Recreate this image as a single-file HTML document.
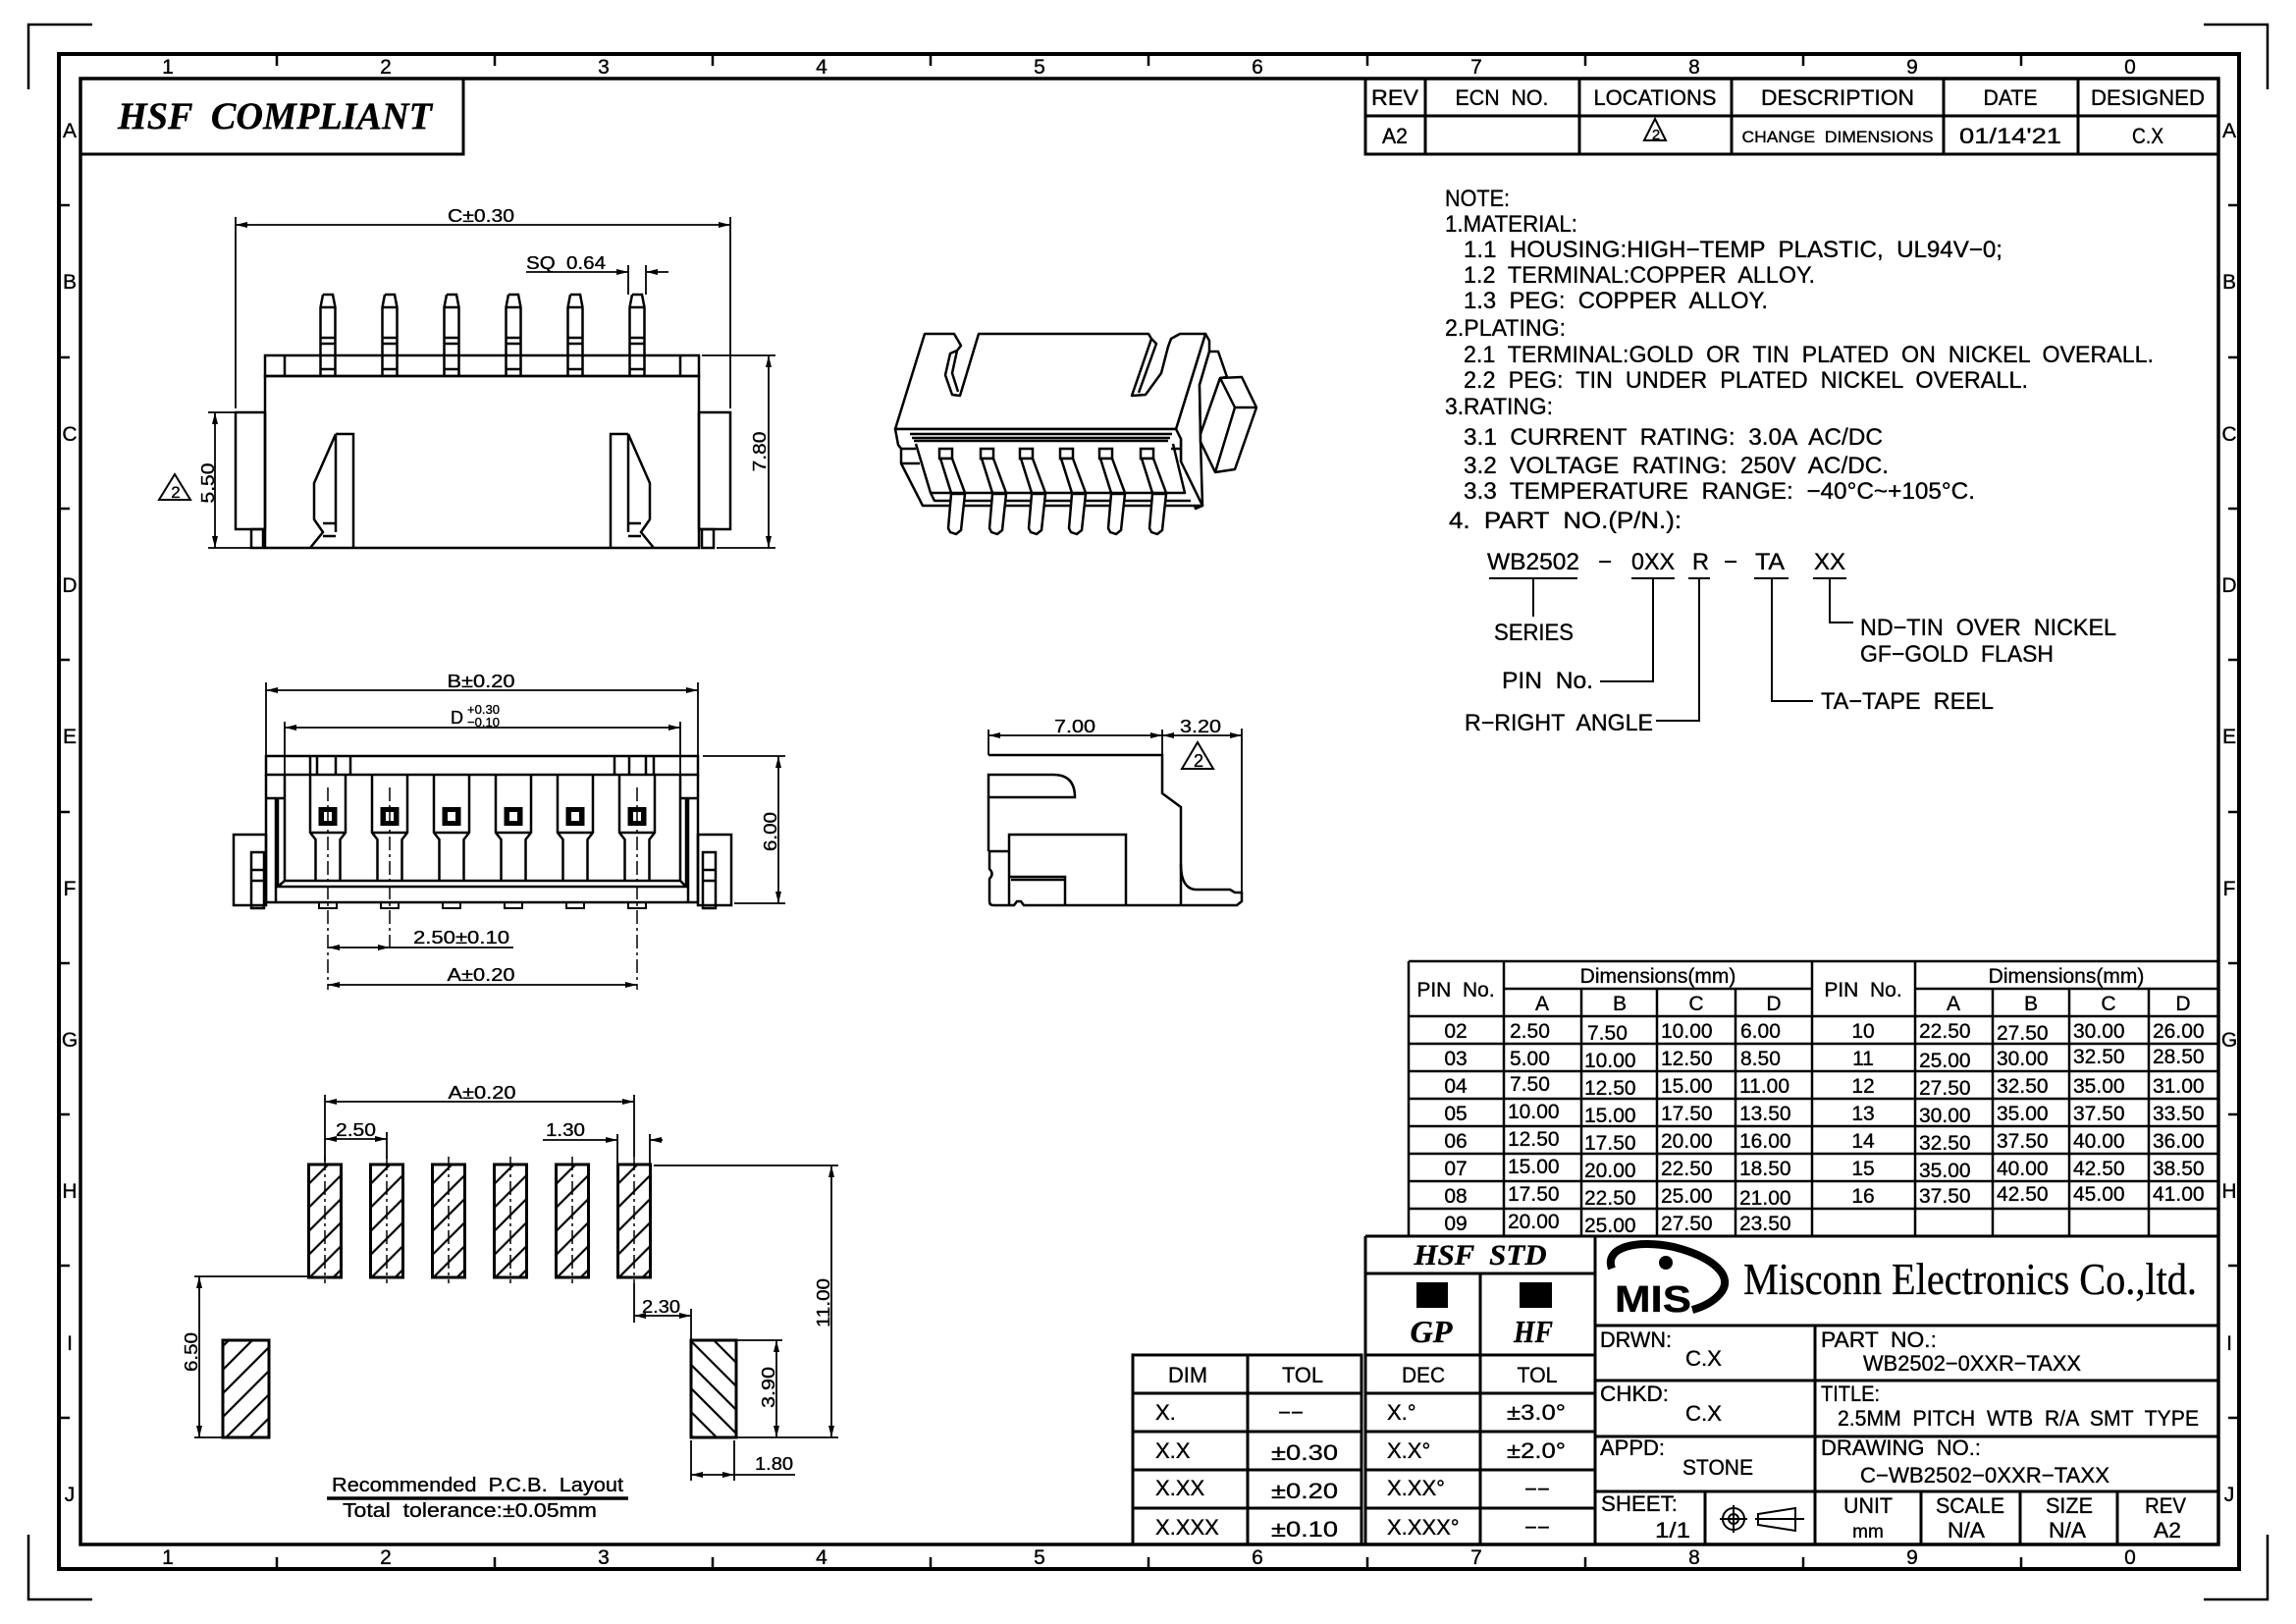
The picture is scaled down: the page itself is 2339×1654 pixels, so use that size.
<!DOCTYPE html>
<html><head><meta charset="utf-8"><style>
html,body{margin:0;padding:0;background:#fff;}
svg{display:block;}
text{font-family:"Liberation Sans",sans-serif;fill:#000;white-space:pre;stroke:#000;stroke-width:0.35;}
.sr{font-family:"Liberation Serif",serif;}
</style></head><body>
<svg width="2339" height="1654" viewBox="0 0 2339 1654" xmlns="http://www.w3.org/2000/svg" xml:space="preserve">
<defs>
<marker id="ar" viewBox="0 0 12 6" refX="12" refY="3" markerWidth="12" markerHeight="6" orient="auto-start-reverse" markerUnits="userSpaceOnUse"><path d="M0,0L12,3L0,6z" fill="#000"/></marker>
<pattern id="hA" patternUnits="userSpaceOnUse" width="17" height="17" patternTransform="rotate(45)"><rect width="17" height="17" fill="#fff"/><line x1="8" y1="0" x2="8" y2="17" stroke="#000" stroke-width="2.2"/></pattern>
<pattern id="hB" patternUnits="userSpaceOnUse" width="17" height="17" patternTransform="rotate(-45)"><rect width="17" height="17" fill="#fff"/><line x1="8" y1="0" x2="8" y2="17" stroke="#000" stroke-width="2.2"/></pattern>
<g id="fp"><path d="M-5,300H5L7.5,313V383M-5,300L-7.5,313V383M-7.5,313H7.5M-7.5,344H7.5M-7.5,350H7.5M-7.5,376H7.5" fill="none" stroke="#000" stroke-width="2.5"/></g>
<g id="bp"><path d="M-18,789V848L-12.5,855V897M18,789V848L12.5,855V897M-18,848H18" fill="none" stroke="#000" stroke-width="2.5"/><rect x="-9.5" y="822" width="19" height="19" fill="#000"/><rect x="-4" y="827" width="8" height="9" fill="#fff"/><rect x="-9" y="919" width="18" height="6" fill="none" stroke="#000" stroke-width="2"/></g>
<g id="pad"><rect x="-16.5" y="1186" width="33" height="115" fill="url(#hA)" stroke="#000" stroke-width="3"/><path d="M0,1178V1307" stroke="#000" stroke-width="1.5" stroke-dasharray="14,4,3,4"/></g>
<g id="tp"><rect x="-18" y="457" width="13" height="10" fill="#fff" stroke="#000" stroke-width="2.5"/><polygon points="-17,467 -5,467 8,502 -6,502" fill="#fff" stroke="#000" stroke-width="2.5"/><polygon points="-6,503 8,503 4,540 -1,544 -7,542 -9,538" fill="#fff" stroke="#000" stroke-width="2.5"/></g>
</defs>

<!-- FRAME -->
<g fill="none" stroke="#000">
<rect x="60" y="55" width="2221" height="1543" stroke-width="4"/>
<rect x="82" y="80" width="2178" height="1493" stroke-width="3.5"/>
<path stroke-width="2.5" d="M94,25H29V91M2245,25H2310V91M29,1563V1629H94M2310,1563V1629H2245"/>
<path stroke-width="2.5" d="M282,55V67M504,55V67M726,55V67M948,55V67M1170,55V67M1393,55V67M1615,55V67M1837,55V67M2059,55V67
M282,1586V1598M504,1586V1598M726,1586V1598M948,1586V1598M1170,1586V1598M1393,1586V1598M1615,1586V1598M1837,1586V1598M2059,1586V1598
M60,209H71M60,364H71M60,518H71M60,672H71M60,827H71M60,981H71M60,1135H71M60,1289H71M60,1444H71
M2270,209H2281M2270,364H2281M2270,518H2281M2270,672H2281M2270,827H2281M2270,981H2281M2270,1135H2281M2270,1289H2281M2270,1444H2281"/>
</g>
<g font-size="21" text-anchor="middle">
<text x="171" y="75">1</text><text x="393" y="75">2</text><text x="615" y="75">3</text><text x="837" y="75">4</text><text x="1059" y="75">5</text><text x="1281" y="75">6</text><text x="1504" y="75">7</text><text x="1726" y="75">8</text><text x="1948" y="75">9</text><text x="2170" y="75">0</text>
<text x="171" y="1593">1</text><text x="393" y="1593">2</text><text x="615" y="1593">3</text><text x="837" y="1593">4</text><text x="1059" y="1593">5</text><text x="1281" y="1593">6</text><text x="1504" y="1593">7</text><text x="1726" y="1593">8</text><text x="1948" y="1593">9</text><text x="2170" y="1593">0</text>
<text x="71" y="140">A</text><text x="71" y="294">B</text><text x="71" y="449">C</text><text x="71" y="603">D</text><text x="71" y="757">E</text><text x="71" y="912">F</text><text x="71" y="1066">G</text><text x="71" y="1220">H</text><text x="71" y="1375">I</text><text x="71" y="1529">J</text>
<text x="2271" y="140">A</text><text x="2271" y="294">B</text><text x="2271" y="449">C</text><text x="2271" y="603">D</text><text x="2271" y="757">E</text><text x="2271" y="912">F</text><text x="2271" y="1066">G</text><text x="2271" y="1220">H</text><text x="2271" y="1375">I</text><text x="2271" y="1529">J</text>
</g>

<!-- HSF COMPLIANT -->
<path d="M472,80V157H82" fill="none" stroke="#000" stroke-width="3"/>
<text class="sr" x="120" y="131" font-size="39" font-weight="bold" font-style="italic" textLength="320" lengthAdjust="spacingAndGlyphs">HSF  COMPLIANT</text>

<!-- REVISION TABLE -->
<path d="M1391,80V157H2260M1391,118H2260M1452,80V157M1609,80V157M1764,80V157M1980,80V157M2117,80V157" fill="none" stroke="#000" stroke-width="3"/>
<g font-size="22" text-anchor="middle">
<text x="1421" y="107" textLength="48" lengthAdjust="spacingAndGlyphs">REV</text>
<text x="1530" y="107" textLength="95" lengthAdjust="spacingAndGlyphs">ECN  NO.</text>
<text x="1686" y="107" textLength="125" lengthAdjust="spacingAndGlyphs">LOCATIONS</text>
<text x="1872" y="107" textLength="156" lengthAdjust="spacingAndGlyphs">DESCRIPTION</text>
<text x="2048" y="107" textLength="55" lengthAdjust="spacingAndGlyphs">DATE</text>
<text x="2188" y="107" textLength="116" lengthAdjust="spacingAndGlyphs">DESIGNED</text>
<text x="1421" y="146" textLength="26" lengthAdjust="spacingAndGlyphs">A2</text>
<text x="1872" y="145" font-size="17" textLength="195" lengthAdjust="spacingAndGlyphs">CHANGE  DIMENSIONS</text>
<text x="2048" y="146" textLength="104" lengthAdjust="spacingAndGlyphs">01/14'21</text>
<text x="2188" y="146" textLength="32" lengthAdjust="spacingAndGlyphs">C.X</text>
<text x="1687" y="142" font-size="15">2</text>
</g>
<path d="M1686,121L1697,143H1675Z" fill="none" stroke="#000" stroke-width="2"/>

<!-- NOTES -->
<g font-size="24">
<text x="1472" y="210" textLength="66" lengthAdjust="spacingAndGlyphs">NOTE:</text>
<text x="1472" y="236" textLength="135" lengthAdjust="spacingAndGlyphs">1.MATERIAL:</text>
<text x="1491" y="262" textLength="549" lengthAdjust="spacingAndGlyphs">1.1  HOUSING:HIGH−TEMP  PLASTIC,  UL94V−0;</text>
<text x="1491" y="288" textLength="358" lengthAdjust="spacingAndGlyphs">1.2  TERMINAL:COPPER  ALLOY.</text>
<text x="1491" y="314" textLength="310" lengthAdjust="spacingAndGlyphs">1.3  PEG:  COPPER  ALLOY.</text>
<text x="1472" y="342" textLength="123" lengthAdjust="spacingAndGlyphs">2.PLATING:</text>
<text x="1491" y="369" textLength="703" lengthAdjust="spacingAndGlyphs">2.1  TERMINAL:GOLD  OR  TIN  PLATED  ON  NICKEL  OVERALL.</text>
<text x="1491" y="395" textLength="575" lengthAdjust="spacingAndGlyphs">2.2  PEG:  TIN  UNDER  PLATED  NICKEL  OVERALL.</text>
<text x="1472" y="422" textLength="110" lengthAdjust="spacingAndGlyphs">3.RATING:</text>
<text x="1491" y="453" textLength="427" lengthAdjust="spacingAndGlyphs">3.1  CURRENT  RATING:  3.0A  AC/DC</text>
<text x="1491" y="482" textLength="433" lengthAdjust="spacingAndGlyphs">3.2  VOLTAGE  RATING:  250V  AC/DC.</text>
<text x="1491" y="508" textLength="521" lengthAdjust="spacingAndGlyphs">3.3  TEMPERATURE  RANGE:  −40°C~+105°C.</text>
<text x="1476" y="538" textLength="237" lengthAdjust="spacingAndGlyphs">4.  PART  NO.(P/N.):</text>
<text x="1515" y="580" textLength="94" lengthAdjust="spacingAndGlyphs">WB2502</text>
<text x="1635" y="580" text-anchor="middle">−</text>
<text x="1662" y="580" textLength="44" lengthAdjust="spacingAndGlyphs">0XX</text>
<text x="1724" y="580" textLength="17" lengthAdjust="spacingAndGlyphs">R</text>
<text x="1763" y="580" text-anchor="middle">−</text>
<text x="1788" y="580" textLength="30" lengthAdjust="spacingAndGlyphs">TA</text>
<text x="1848" y="580" textLength="32" lengthAdjust="spacingAndGlyphs">XX</text>
<text x="1522" y="652" textLength="81" lengthAdjust="spacingAndGlyphs">SERIES</text>
<text x="1530" y="701" textLength="93" lengthAdjust="spacingAndGlyphs">PIN  No.</text>
<text x="1492" y="744" textLength="192" lengthAdjust="spacingAndGlyphs">R−RIGHT  ANGLE</text>
<text x="1855" y="722" textLength="176" lengthAdjust="spacingAndGlyphs">TA−TAPE  REEL</text>
<text x="1895" y="647" textLength="261" lengthAdjust="spacingAndGlyphs">ND−TIN  OVER  NICKEL</text>
<text x="1895" y="674" textLength="197" lengthAdjust="spacingAndGlyphs">GF−GOLD  FLASH</text>
</g>
<path d="M1517,589H1607M1662,589H1706M1720,589H1742M1787,589H1822M1847,589H1881M1562,589V628M1630,694H1684V589M1687,734H1731V589M1805,589V714H1847M1864,589V634H1888" fill="none" stroke="#000" stroke-width="2"/>

<!-- PIN TABLE -->
<path d="M1435,979H2260M1435,979V1259M1532,979V1259M1846,979V1259M1951,979V1259M1611,1007V1259M1688,1007V1259M1768,1007V1259M2030,1007V1259M2108,1007V1259M2189,1007V1259M1532,1007H1846M1951,1007H2260M1435,1035H2260M1435,1063H2260M1435,1091H2260M1435,1119H2260M1435,1147H2260M1435,1175H2260M1435,1203H2260M1435,1231H2260" fill="none" stroke="#000" stroke-width="2.5"/>
<g font-size="21" text-anchor="middle">
<text x="1483" y="1015">PIN  No.</text><text x="1898" y="1015">PIN  No.</text>
<text x="1689" y="1001">Dimensions(mm)</text><text x="2105" y="1001">Dimensions(mm)</text>
<text x="1571" y="1029">A</text><text x="1650" y="1029">B</text><text x="1728" y="1029">C</text><text x="1807" y="1029">D</text>
<text x="1990" y="1029">A</text><text x="2069" y="1029">B</text><text x="2148" y="1029">C</text><text x="2224" y="1029">D</text>
<text x="1483" y="1057">02</text><text x="1483" y="1085">03</text><text x="1483" y="1113">04</text><text x="1483" y="1141">05</text><text x="1483" y="1169">06</text><text x="1483" y="1197">07</text><text x="1483" y="1225">08</text><text x="1483" y="1253">09</text>
<text x="1898" y="1057">10</text><text x="1898" y="1085">11</text><text x="1898" y="1113">12</text><text x="1898" y="1141">13</text><text x="1898" y="1169">14</text><text x="1898" y="1197">15</text><text x="1898" y="1225">16</text>
</g>
<g font-size="21">
<text x="1538" y="1057">2.50</text><text x="1617" y="1059">7.50</text><text x="1692" y="1057">10.00</text><text x="1773" y="1057">6.00</text>
<text x="1538" y="1085">5.00</text><text x="1614" y="1087">10.00</text><text x="1692" y="1085">12.50</text><text x="1773" y="1085">8.50</text>
<text x="1538" y="1111">7.50</text><text x="1614" y="1115">12.50</text><text x="1692" y="1113">15.00</text><text x="1772" y="1113">11.00</text>
<text x="1536" y="1139">10.00</text><text x="1614" y="1143">15.00</text><text x="1692" y="1141">17.50</text><text x="1772" y="1141">13.50</text>
<text x="1536" y="1167">12.50</text><text x="1614" y="1171">17.50</text><text x="1692" y="1169">20.00</text><text x="1772" y="1169">16.00</text>
<text x="1536" y="1195">15.00</text><text x="1614" y="1199">20.00</text><text x="1692" y="1197">22.50</text><text x="1772" y="1197">18.50</text>
<text x="1536" y="1223">17.50</text><text x="1614" y="1227">22.50</text><text x="1692" y="1225">25.00</text><text x="1772" y="1227">21.00</text>
<text x="1536" y="1251">20.00</text><text x="1614" y="1255">25.00</text><text x="1692" y="1253">27.50</text><text x="1772" y="1253">23.50</text>
<text x="1955" y="1057">22.50</text><text x="2034" y="1059">27.50</text><text x="2112" y="1057">30.00</text><text x="2193" y="1057">26.00</text>
<text x="1955" y="1087">25.00</text><text x="2034" y="1085">30.00</text><text x="2112" y="1083">32.50</text><text x="2193" y="1083">28.50</text>
<text x="1955" y="1115">27.50</text><text x="2034" y="1113">32.50</text><text x="2112" y="1113">35.00</text><text x="2193" y="1113">31.00</text>
<text x="1955" y="1143">30.00</text><text x="2034" y="1141">35.00</text><text x="2112" y="1141">37.50</text><text x="2193" y="1141">33.50</text>
<text x="1955" y="1171">32.50</text><text x="2034" y="1169">37.50</text><text x="2112" y="1169">40.00</text><text x="2193" y="1169">36.00</text>
<text x="1955" y="1199">35.00</text><text x="2034" y="1197">40.00</text><text x="2112" y="1197">42.50</text><text x="2193" y="1197">38.50</text>
<text x="1955" y="1225">37.50</text><text x="2034" y="1223">42.50</text><text x="2112" y="1223">45.00</text><text x="2193" y="1223">41.00</text>
</g>

<!-- TITLE BLOCK -->
<path d="M1391,1259H2260M1391,1259V1573M1625,1259V1573M1391,1297H1625M1508,1297V1573M1391,1380H1625M1391,1419H1625M1391,1458H1625M1391,1497H1625M1391,1536H1625M1625,1350H2260M1625,1406H2260M1625,1463H2260M1625,1519H2260M1849,1350V1573M1737,1519V1573M1957,1519V1573M2058,1519V1573M2157,1519V1573" fill="none" stroke="#000" stroke-width="3"/>
<text class="sr" x="1508" y="1288" font-size="30" font-weight="bold" font-style="italic" text-anchor="middle" textLength="135" lengthAdjust="spacingAndGlyphs">HSF  STD</text>
<rect x="1443" y="1306" width="32" height="26" fill="#000"/><rect x="1548" y="1306" width="33" height="26" fill="#000"/>
<text class="sr" x="1458" y="1367" font-size="32" font-weight="bold" font-style="italic" text-anchor="middle" textLength="43" lengthAdjust="spacingAndGlyphs">GP</text>
<text class="sr" x="1562" y="1367" font-size="32" font-weight="bold" font-style="italic" text-anchor="middle" textLength="40" lengthAdjust="spacingAndGlyphs">HF</text>
<g font-size="22">
<text x="1450" y="1408" text-anchor="middle" textLength="44" lengthAdjust="spacingAndGlyphs">DEC</text>
<text x="1566" y="1408" text-anchor="middle" textLength="41" lengthAdjust="spacingAndGlyphs">TOL</text>
<text x="1413" y="1446">X.°</text><text x="1535" y="1446" textLength="60" lengthAdjust="spacingAndGlyphs">±3.0°</text>
<text x="1413" y="1485">X.X°</text><text x="1535" y="1485" textLength="60" lengthAdjust="spacingAndGlyphs">±2.0°</text>
<text x="1413" y="1523">X.XX°</text><text x="1566" y="1524" text-anchor="middle">−−</text>
<text x="1413" y="1563">X.XXX°</text><text x="1566" y="1563" text-anchor="middle">−−</text>
</g>
<!-- logo -->
<path d="M1642,1292C1634,1270 1668,1262 1705,1270C1745,1280 1768,1300 1752,1318C1745,1326 1735,1331 1724,1334" fill="none" stroke="#000" stroke-width="8"/>
<circle cx="1697" cy="1286" r="7" fill="#000"/>
<text x="1645" y="1336" font-size="38" font-weight="bold" textLength="78" lengthAdjust="spacingAndGlyphs">MIS</text>
<text class="sr" x="1776" y="1318" font-size="46" textLength="462" lengthAdjust="spacingAndGlyphs">Misconn Electronics Co.,ltd.</text>
<g font-size="22">
<text x="1630" y="1372" textLength="73" lengthAdjust="spacingAndGlyphs">DRWN:</text>
<text x="1717" y="1391" textLength="37" lengthAdjust="spacingAndGlyphs">C.X</text>
<text x="1855" y="1372" textLength="118" lengthAdjust="spacingAndGlyphs">PART  NO.:</text>
<text x="1898" y="1396" textLength="222" lengthAdjust="spacingAndGlyphs">WB2502−0XXR−TAXX</text>
<text x="1630" y="1427" textLength="70" lengthAdjust="spacingAndGlyphs">CHKD:</text>
<text x="1717" y="1447" textLength="37" lengthAdjust="spacingAndGlyphs">C.X</text>
<text x="1855" y="1427" textLength="60" lengthAdjust="spacingAndGlyphs">TITLE:</text>
<text x="1872" y="1452" textLength="368" lengthAdjust="spacingAndGlyphs">2.5MM  PITCH  WTB  R/A  SMT  TYPE</text>
<text x="1630" y="1482" textLength="66" lengthAdjust="spacingAndGlyphs">APPD:</text>
<text x="1714" y="1502" textLength="72" lengthAdjust="spacingAndGlyphs">STONE</text>
<text x="1855" y="1482" textLength="163" lengthAdjust="spacingAndGlyphs">DRAWING  NO.:</text>
<text x="1895" y="1510" textLength="254" lengthAdjust="spacingAndGlyphs">C−WB2502−0XXR−TAXX</text>
<text x="1631" y="1539" textLength="78" lengthAdjust="spacingAndGlyphs">SHEET:</text>
<text x="1686" y="1566" textLength="36" lengthAdjust="spacingAndGlyphs">1/1</text>
<text x="1903" y="1541" text-anchor="middle" textLength="50" lengthAdjust="spacingAndGlyphs">UNIT</text>
<text x="1903" y="1566" text-anchor="middle" font-size="19">mm</text>
<text x="2007" y="1541" text-anchor="middle" textLength="70" lengthAdjust="spacingAndGlyphs">SCALE</text>
<text x="2003" y="1566" text-anchor="middle" textLength="38" lengthAdjust="spacingAndGlyphs">N/A</text>
<text x="2108" y="1541" text-anchor="middle" textLength="48" lengthAdjust="spacingAndGlyphs">SIZE</text>
<text x="2106" y="1566" text-anchor="middle" textLength="38" lengthAdjust="spacingAndGlyphs">N/A</text>
<text x="2206" y="1541" text-anchor="middle" textLength="42" lengthAdjust="spacingAndGlyphs">REV</text>
<text x="2208" y="1566" text-anchor="middle" textLength="28" lengthAdjust="spacingAndGlyphs">A2</text>
</g>
<g fill="none" stroke="#000" stroke-width="2">
<circle cx="1766" cy="1547" r="11"/><circle cx="1766" cy="1547" r="5"/>
<path d="M1752,1547H1780M1766,1533V1561M1791,1542L1829,1536V1559L1791,1553ZM1788,1547H1838"/>
</g>

<!-- DIM TOL TABLE -->
<path d="M1154,1380H1387V1573H1154ZM1271,1380V1573M1154,1419H1387M1154,1458H1387M1154,1497H1387M1154,1536H1387" fill="none" stroke="#000" stroke-width="3"/>
<g font-size="22">
<text x="1210" y="1408" text-anchor="middle" textLength="40" lengthAdjust="spacingAndGlyphs">DIM</text>
<text x="1327" y="1408" text-anchor="middle" textLength="42" lengthAdjust="spacingAndGlyphs">TOL</text>
<text x="1177" y="1446">X.</text><text x="1315" y="1446" text-anchor="middle">−−</text>
<text x="1177" y="1485">X.X</text><text x="1295" y="1487" textLength="68" lengthAdjust="spacingAndGlyphs">±0.30</text>
<text x="1177" y="1523">X.XX</text><text x="1295" y="1526" textLength="68" lengthAdjust="spacingAndGlyphs">±0.20</text>
<text x="1177" y="1563">X.XXX</text><text x="1295" y="1565" textLength="68" lengthAdjust="spacingAndGlyphs">±0.10</text>
</g>

<!-- FRONT VIEW -->
<g fill="none" stroke="#000" stroke-width="2.5">
<rect x="270" y="362" width="442" height="21"/>
<rect x="270" y="383" width="442" height="175"/>
<rect x="240" y="420" width="30" height="119"/><rect x="256" y="539" width="12" height="19"/>
<rect x="712" y="420" width="32" height="119"/><rect x="715" y="539" width="12" height="19"/>
<path d="M290,362V383M693,362V383"/>
<path d="M342,442H360V558M342,442V542M342,442L320,492V529L329,542L316,558M329,533H342M329,546H342"/>
<path d="M640,442H622V558M640,442V542M640,442L662,492V529L653,542L666,558M653,533H640M653,546H640"/>
</g>
<use href="#fp" x="334"/><use href="#fp" x="397"/><use href="#fp" x="460"/><use href="#fp" x="523"/><use href="#fp" x="586"/><use href="#fp" x="649"/>
<g fill="none" stroke="#000" stroke-width="1.8">
<path d="M240,229H744" marker-start="url(#ar)" marker-end="url(#ar)"/>
<path d="M240,221V416M744,221V416"/>
<path d="M536,277H640" marker-end="url(#ar)"/><path d="M681,277H658" marker-end="url(#ar)"/>
<path d="M640,270V300M658,270V300"/>
<path d="M219,420V558" marker-start="url(#ar)" marker-end="url(#ar)"/>
<path d="M212,420H240M212,558H256"/>
<path d="M783,362V558" marker-start="url(#ar)" marker-end="url(#ar)"/>
<path d="M715,362H790M730,558H790"/>
<path d="M178,483L194,509H162Z" stroke-width="2"/>
</g>
<g font-size="18">
<text x="490" y="226" text-anchor="middle" textLength="68" lengthAdjust="spacingAndGlyphs">C±0.30</text>
<text x="536" y="274" textLength="81" lengthAdjust="spacingAndGlyphs">SQ  0.64</text>
<text transform="translate(218,492) rotate(-90)" text-anchor="middle" textLength="41" lengthAdjust="spacingAndGlyphs">5.50</text>
<text transform="translate(780,460) rotate(-90)" text-anchor="middle" textLength="41" lengthAdjust="spacingAndGlyphs">7.80</text>
<text x="179" y="507" text-anchor="middle" font-size="17">2</text>
</g>

<!-- 3D VIEW -->
<g fill="#fff" stroke="#000" stroke-width="2.5" stroke-linejoin="round">
<path d="M1228,340L1232,347L1232,358L1222,392L1223,450L1225,515L1218,518L1203,470L1203,447L1198,437Z"/>
<path d="M1232,358L1241,358L1250,384L1243,385L1223,442L1222,392Z"/>
<path d="M1243,385L1265,384L1280,415L1258,478L1238,481L1223,450L1223,442Z"/>
<path d="M1243,385L1258,415H1280M1258,415L1238,481" fill="none"/>
<path d="M942,340H972L979,352L975,357L968,360L963,382L970,402L978,403L997,340H1170L1173,345L1153,403L1167,402L1183,380L1190,353L1193,345L1202,340H1228L1198,437H912Z"/>
<path d="M975,357L970,380L976,399M1173,345L1178,350L1160,400" fill="none"/>
<path d="M912,437H1198L1203,447V470L1225,515H940L918,472V457L915,453Z"/>
<path d="M927,442H1194M929,446H1192M931,449H1190M933,452L948,502H1207L1195,452M918,457H933M918,472H937M1193,457H1203M948,502L952,510H1213" fill="none"/>
</g>
<use href="#tp" x="975"/><use href="#tp" x="1017"/><use href="#tp" x="1057"/><use href="#tp" x="1098"/><use href="#tp" x="1138"/><use href="#tp" x="1180"/>

<!-- BOTTOM VIEW -->
<g fill="none" stroke="#000" stroke-width="2.5">
<rect x="271" y="770" width="440" height="19"/>
<path d="M316,770V789M323,770V789M342,770V789M357,770V789M626,770V789M641,770V789M658,770V789M666,770V789"/>
<path d="M271,789V919M281,813V919M271,813H290M711,789V919M701,813V919M693,813H711"/>
<path d="M290,789V897H693V789M283,813V903H699V813M283,903L290,897M699,903L693,897"/>
<path d="M271,919H711"/>
<rect x="238" y="850" width="33" height="72"/><rect x="256" y="868" width="13" height="57"/><path d="M256,886H269M256,897H269"/>
<rect x="711" y="850" width="34" height="72"/><rect x="716" y="868" width="13" height="57"/><path d="M716,886H729M716,897H729"/>
</g>
<use href="#bp" x="334"/><use href="#bp" x="397"/><use href="#bp" x="460"/><use href="#bp" x="523"/><use href="#bp" x="586"/><use href="#bp" x="649"/>
<g fill="none" stroke="#000" stroke-width="1.8">
<path d="M334,802V1008M397,802V970M649,802V1008" stroke-dasharray="14,4,3,4" stroke-width="1.5"/>
<path d="M271,703H711" marker-start="url(#ar)" marker-end="url(#ar)"/>
<path d="M271,695V770M711,695V770"/>
<path d="M290,741H693" marker-start="url(#ar)" marker-end="url(#ar)"/>
<path d="M290,735V789M693,735V789"/>
<path d="M793,770V920" marker-start="url(#ar)" marker-end="url(#ar)"/>
<path d="M716,770H800M748,920H800"/>
<path d="M334,965H397" marker-start="url(#ar)" marker-end="url(#ar)"/><path d="M397,965H523"/>
<path d="M334,1003H649" marker-start="url(#ar)" marker-end="url(#ar)"/>
</g>
<g font-size="18">
<text x="490" y="700" text-anchor="middle" textLength="69" lengthAdjust="spacingAndGlyphs">B±0.20</text>
<text x="459" y="737">D</text>
<text x="476" y="727" font-size="13" textLength="33" lengthAdjust="spacingAndGlyphs">+0.30</text>
<text x="476" y="740" font-size="13" textLength="33" lengthAdjust="spacingAndGlyphs">−0.10</text>
<text transform="translate(791,847) rotate(-90)" text-anchor="middle" textLength="40" lengthAdjust="spacingAndGlyphs">6.00</text>
<text x="421" y="961" textLength="98" lengthAdjust="spacingAndGlyphs">2.50±0.10</text>
<text x="490" y="999" text-anchor="middle" textLength="69" lengthAdjust="spacingAndGlyphs">A±0.20</text>
</g>

<!-- SIDE VIEW -->
<g fill="none" stroke="#000" stroke-width="2.5">
<path d="M1007,769H1184V808L1203,822V880Q1203,905 1218,906H1253L1258,909H1265V918L1260,922H1203M1203,922H1043L1040,918H1036L1033,922H1012Q1008,922 1008,918V895Q1013,890 1008,885V867M1007,867V812H1095Q1095,789 1073,789H1007Z"/>
<path d="M1028,922V850H1147V922M1028,893H1085V922M1030,896H1085M1007,867H1028M1203,880V922"/>
</g>
<g fill="none" stroke="#000" stroke-width="1.8">
<path d="M1007,749H1184" marker-start="url(#ar)" marker-end="url(#ar)"/>
<path d="M1184,749H1265" marker-start="url(#ar)" marker-end="url(#ar)"/>
<path d="M1007,743V769M1184,743V769M1265,742V913"/>
<path d="M1220,756L1236,783H1204Z" stroke-width="2"/>
</g>
<g font-size="18">
<text x="1095" y="746" text-anchor="middle" textLength="42" lengthAdjust="spacingAndGlyphs">7.00</text>
<text x="1223" y="746" text-anchor="middle" textLength="42" lengthAdjust="spacingAndGlyphs">3.20</text>
<text x="1221" y="781" text-anchor="middle">2</text>
</g>

<!-- PCB LAYOUT -->
<use href="#pad" x="331"/><use href="#pad" x="394"/><use href="#pad" x="457"/><use href="#pad" x="520"/><use href="#pad" x="583"/><use href="#pad" x="646"/>
<rect x="227" y="1365" width="47" height="99" fill="url(#hA)" stroke="#000" stroke-width="3"/>
<rect x="704" y="1365" width="46" height="99" fill="url(#hB)" stroke="#000" stroke-width="3"/>
<g fill="none" stroke="#000" stroke-width="1.8">
<path d="M331,1122H646" marker-start="url(#ar)" marker-end="url(#ar)"/>
<path d="M331,1115V1183M646,1115V1178M646,1307V1347"/>
<path d="M331,1160H394" marker-start="url(#ar)" marker-end="url(#ar)"/>
<path d="M394,1153V1180"/>
<path d="M553,1161H629" marker-end="url(#ar)"/><path d="M675,1161H662" marker-end="url(#ar)"/>
<path d="M629,1155V1185M662,1155V1185"/>
<path d="M203,1300V1464" marker-start="url(#ar)" marker-end="url(#ar)"/>
<path d="M198,1300H314M198,1464H227"/>
<path d="M847,1187V1464" marker-start="url(#ar)" marker-end="url(#ar)"/>
<path d="M666,1187H854M750,1464H854"/>
<path d="M791,1365V1464" marker-start="url(#ar)" marker-end="url(#ar)"/>
<path d="M750,1365H797"/>
<path d="M646,1340H704" marker-start="url(#ar)" marker-end="url(#ar)"/>
<path d="M704,1333V1365"/>
<path d="M704,1502H748" marker-start="url(#ar)" marker-end="url(#ar)"/><path d="M748,1502H810"/>
<path d="M704,1467V1508M748,1467V1508"/>
<path d="M333,1526H640" stroke-width="3.5"/>
</g>
<g font-size="18">
<text x="491" y="1119" text-anchor="middle" textLength="69" lengthAdjust="spacingAndGlyphs">A±0.20</text>
<text x="342" y="1157" textLength="41" lengthAdjust="spacingAndGlyphs">2.50</text>
<text x="556" y="1157" textLength="40" lengthAdjust="spacingAndGlyphs">1.30</text>
<text transform="translate(201,1377) rotate(-90)" text-anchor="middle" textLength="40" lengthAdjust="spacingAndGlyphs">6.50</text>
<text transform="translate(845,1327) rotate(-90)" text-anchor="middle" textLength="50" lengthAdjust="spacingAndGlyphs">11.00</text>
<text transform="translate(789,1413) rotate(-90)" text-anchor="middle" textLength="42" lengthAdjust="spacingAndGlyphs">3.90</text>
<text x="654" y="1337" textLength="39" lengthAdjust="spacingAndGlyphs">2.30</text>
<text x="769" y="1497" textLength="39" lengthAdjust="spacingAndGlyphs">1.80</text>
<text x="338" y="1519" font-size="20" textLength="297" lengthAdjust="spacingAndGlyphs">Recommended  P.C.B.  Layout</text>
<text x="349" y="1545" font-size="20" textLength="259" lengthAdjust="spacingAndGlyphs">Total  tolerance:±0.05mm</text>
</g>
</svg>
</body></html>
